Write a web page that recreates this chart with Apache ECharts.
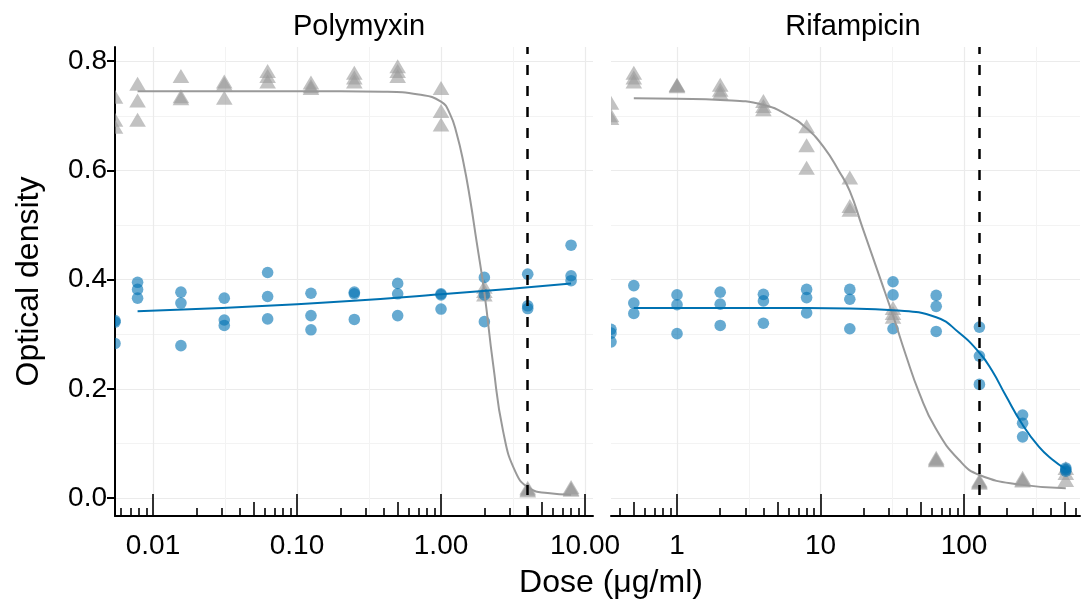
<!DOCTYPE html>
<html>
<head>
<meta charset="utf-8">
<script src="https://cdn.jsdelivr.net/npm/echarts@6/dist/echarts.min.js"></script>
<style>
  html, body { margin: 0; background: #fff; }
  #chart { width: 1082px; height: 605px; }
</style>
</head>
<body>
<div id="chart"></div>
<script>
// doses in ug/ml, 0 = untreated control (drawn on the panel edge, like ggplot's -Inf)
const polyDoses = [0, 0.0078125, 0.015625, 0.03125, 0.0625, 0.125, 0.25, 0.5, 1, 2, 4, 8];
const rifDoses = [0, 0.5, 1, 2, 4, 8, 16, 32, 64, 128, 256, 512];

// three replicates per dose
const polyBlue = [
  [0.325, 0.322, 0.283], [0.395, 0.382, 0.366], [0.377, 0.357, 0.279], [0.366, 0.326, 0.316],
  [0.413, 0.369, 0.328], [0.375, 0.334, 0.308], [0.377, 0.374, 0.327], [0.393, 0.374, 0.334],
  [0.374, 0.372, 0.346], [0.404, 0.372, 0.323], [0.410, 0.352, 0.347], [0.463, 0.407, 0.398],
];
const polyGray = [
  [0.734, 0.692, 0.679], [0.758, 0.727, 0.692], [0.772, 0.735, 0.731], [0.762, 0.758, 0.732],
  [0.781, 0.772, 0.762], [0.760, 0.753, 0.750], [0.778, 0.769, 0.762], [0.790, 0.781, 0.772],
  [0.750, 0.708, 0.683], [0.386, 0.378, 0.372], [0.018, 0.015, 0.013], [0.019, 0.016, 0.014],
];
const rifBlue = [
  [0.309, 0.302, 0.286], [0.389, 0.357, 0.338], [0.372, 0.354, 0.301], [0.377, 0.355, 0.316],
  [0.373, 0.361, 0.320], [0.382, 0.367, 0.339], [0.382, 0.364, 0.310], [0.396, 0.372, 0.310],
  [0.371, 0.351, 0.305], [0.313, 0.260, 0.208], [0.152, 0.137, 0.112], [0.055, 0.052, 0.049],
];
const rifGray = [
  [0.723, 0.700, 0.695], [0.778, 0.769, 0.762], [0.756, 0.755, 0.753], [0.756, 0.747, 0.741],
  [0.726, 0.717, 0.711], [0.680, 0.645, 0.604], [0.586, 0.534, 0.527], [0.347, 0.338, 0.331],
  [0.073, 0.070, 0.068], [0.031, 0.029, 0.027], [0.036, 0.033, 0.031], [0.054, 0.045, 0.032],
];

// fitted curves, read at a few doses
const polyBlueCurve = [[0.0078125, 0.342], [0.1, 0.355], [1, 0.373], [8, 0.393]];
const polyGrayCurve = [
  [0.0078125, 0.745], [0.1, 0.745], [0.4, 0.744], [0.7, 0.739], [1.0, 0.726], [1.155, 0.703],
  [1.285, 0.667], [1.43, 0.615], [1.59, 0.548], [1.77, 0.468], [2.0, 0.376], [2.3, 0.245],
  [2.7, 0.122], [3.3, 0.047], [4.1, 0.018], [5.5, 0.009], [8, 0.006],
];
const rifBlueCurve = [
  [0.5, 0.348], [4, 0.348], [16, 0.347], [32, 0.344], [64, 0.331], [92, 0.303], [128, 0.266],
  [157, 0.233], [194, 0.189], [256, 0.134], [332, 0.094], [410, 0.071], [512, 0.053],
];
const rifGrayCurve = [
  [0.5, 0.732], [1, 0.731], [2, 0.729], [4, 0.720], [6.1, 0.699], [8, 0.677], [10.5, 0.643],
  [13.5, 0.598], [16, 0.562], [19.5, 0.497], [26.3, 0.399], [32, 0.334], [39.4, 0.261],
  [48.5, 0.194], [63.3, 0.128], [92, 0.070], [128, 0.042], [256, 0.024], [512, 0.018],
];

// MIC lines
const polyMic = 4;
const rifMic = 128;

// axes
const polyRange = [0.005445, 11.36];
const rifRange = [0.3467, 643];
const polyMajors = [0.01, 0.1, 1, 10];
const polyTickLabels = ['0.01', '0.10', '1.00', '10.00'];
const rifMajors = [1, 10, 100];
const rifTickLabels = ['1', '10', '100'];
const yRange = [-0.033, 0.826];
const yMajors = [0, 0.2, 0.4, 0.6, 0.8];
const yTickLabels = ['0.0', '0.2', '0.4', '0.6', '0.8'];
const yMinors = [0.1, 0.3, 0.5, 0.7];

const BLUE = '#0072B2';
const GRAY = '#999999';
const FONT = 'Liberation Sans, Arial, sans-serif';

// log ticks (annotation_logticks style) inside a range
function logTicks(range, mults) {
  const out = [];
  for (let e = -4; e <= 4; e++) {
    mults.forEach((m) => {
      const v = m * Math.pow(10, e);
      if (v > range[0] && v < range[1]) out.push(+v.toPrecision(6));
    });
  }
  return out;
}

function toPoints(doses, reps, edge) {
  const pts = [];
  doses.forEach((d, i) => {
    reps[i].forEach((v) => pts.push([d === 0 ? edge : d, v]));
  });
  return pts;
}

function pickLabel(majors, labels) {
  return (v) => {
    const i = majors.findIndex((m) => Math.abs(Math.log10(m) - Math.log10(v)) < 1e-6);
    return i < 0 ? '' : labels[i];
  };
}

const tickLine = { color: '#000', width: 1.6 };

function xAxesFor(gridIndex, range, majors, labels) {
  const base = {
    type: 'log',
    logBase: 10,
    gridIndex,
    min: range[0],
    max: range[1],
    position: 'bottom',
    axisLine: { show: false, onZero: false },
    axisTick: { show: false },
    axisLabel: { show: false },
    splitLine: { show: false },
  };
  return [
    {
      ...base,
      axisLine: { show: true, onZero: false, lineStyle: { color: '#000', width: 2 } },
      axisTick: { show: true, inside: true, length: 22, customValues: majors, lineStyle: tickLine },
      axisLabel: {
        show: true,
        customValues: majors,
        formatter: pickLabel(majors, labels),
        margin: 16,
        fontSize: 28,
        fontFamily: FONT,
        color: '#000',
      },
      splitLine: { show: true, lineStyle: { color: '#ebebeb', width: 1.2 } },
    },
    {
      ...base,
      axisTick: { show: true, inside: true, length: 14, customValues: logTicks(range, [5]), lineStyle: tickLine },
    },
    {
      ...base,
      axisTick: { show: true, inside: true, length: 8, customValues: logTicks(range, [2, 3, 4, 6, 7, 8, 9]), lineStyle: tickLine },
    },
    {
      ...base,
      axisTick: { show: false, customValues: logTicks(range, [Math.sqrt(10)]) },
      splitLine: { show: true, lineStyle: { color: '#f3f3f3', width: 1 } },
    },
  ];
}

function yAxesFor(gridIndex, withAxis) {
  const base = {
    type: 'value',
    gridIndex,
    min: yRange[0],
    max: yRange[1],
    position: 'left',
    axisLine: { show: false, onZero: false },
    axisTick: { show: false },
    axisLabel: { show: false },
    splitLine: { show: false },
  };
  return [
    {
      ...base,
      axisLine: { show: withAxis, onZero: false, lineStyle: { color: '#000', width: 2 } },
      axisTick: { show: withAxis, length: 8, customValues: yMajors, lineStyle: { color: '#000', width: 2 } },
      axisLabel: {
        show: withAxis,
        customValues: yMajors,
        formatter: (v) => yTickLabels[yMajors.findIndex((m) => Math.abs(m - v) < 1e-6)] || '',
        margin: 8,
        fontSize: 28,
        fontFamily: FONT,
        color: '#000',
      },
      splitLine: { show: true, lineStyle: { color: '#ebebeb', width: 1.2 } },
      name: withAxis ? 'Optical density' : '',
      nameLocation: 'middle',
      nameRotate: 90,
      nameGap: 70,
      nameTextStyle: { fontSize: 32, fontFamily: FONT, color: '#000' },
    },
    {
      ...base,
      axisTick: { show: false, customValues: yMinors },
      splitLine: { show: true, lineStyle: { color: '#f3f3f3', width: 1 } },
    },
  ];
}

// points through a custom series so that control points are clipped on the panel edge
function pointSeries(xIdx, yIdx, data, color, shape) {
  return {
    type: 'custom',
    xAxisIndex: xIdx,
    yAxisIndex: yIdx,
    clip: true,
    data,
    encode: { x: 0, y: 1 },
    z: 3,
    renderItem: (params, api) => {
      const p = api.coord([api.value(0), api.value(1)]);
      const style = { fill: color, opacity: 0.6 };
      if (shape === 'circle') {
        return { type: 'circle', shape: { cx: p[0], cy: p[1], r: 5.8 }, style };
      }
      return {
        type: 'polygon',
        shape: { points: [[p[0], p[1] - 7.5], [p[0] + 8.3, p[1] + 6.5], [p[0] - 8.3, p[1] + 6.5]] },
        style,
      };
    },
  };
}

function curveSeries(xIdx, yIdx, data, color) {
  return {
    type: 'line',
    xAxisIndex: xIdx,
    yAxisIndex: yIdx,
    data,
    showSymbol: false,
    smooth: 0.5,
    z: 4,
    lineStyle: { color, width: 2 },
    emphasis: { disabled: true },
  };
}

function micSeries(xIdx, yIdx, dose) {
  return {
    type: 'line',
    xAxisIndex: xIdx,
    yAxisIndex: yIdx,
    data: [],
    z: 5,
    markLine: {
      silent: true,
      symbol: 'none',
      label: { show: false },
      lineStyle: { color: '#000', type: [10, 11], width: 2.5 },
      data: [{ xAxis: dose }],
    },
  };
}

const chart = echarts.init(document.getElementById('chart'), null, { renderer: 'canvas' });

chart.setOption({
  backgroundColor: '#fff',
  animation: false,
  grid: [
    { left: 115, top: 47, width: 478, height: 469, containLabel: false, outerBoundsMode: 'none' },
    { left: 611, top: 47, width: 469, height: 469, containLabel: false, outerBoundsMode: 'none' },
  ],
  title: [
    { text: 'Polymyxin', left: 354, top: 7, textAlign: 'center', textStyle: { fontSize: 29, fontWeight: 'normal', fontFamily: FONT, color: '#000' } },
    { text: 'Rifampicin', left: 848, top: 7, textAlign: 'center', textStyle: { fontSize: 29, fontWeight: 'normal', fontFamily: FONT, color: '#000' } },
  ],
  graphic: [
    {
      type: 'text',
      x: 611,
      y: 583,
      style: { text: 'Dose (μg/ml)', fontSize: 32, fontFamily: FONT, fill: '#000', align: 'center', verticalAlign: 'middle' },
    },
  ],
  xAxis: [
    ...xAxesFor(0, polyRange, polyMajors, polyTickLabels),
    ...xAxesFor(1, rifRange, rifMajors, rifTickLabels),
  ],
  yAxis: [...yAxesFor(0, true), ...yAxesFor(1, false)],
  series: [
    pointSeries(0, 0, toPoints(polyDoses, polyGray, polyRange[0]), GRAY, 'triangle'),
    pointSeries(0, 0, toPoints(polyDoses, polyBlue, polyRange[0]), BLUE, 'circle'),
    curveSeries(0, 0, polyGrayCurve, GRAY),
    curveSeries(0, 0, polyBlueCurve, BLUE),
    micSeries(0, 0, polyMic),
    pointSeries(4, 2, toPoints(rifDoses, rifGray, rifRange[0]), GRAY, 'triangle'),
    pointSeries(4, 2, toPoints(rifDoses, rifBlue, rifRange[0]), BLUE, 'circle'),
    curveSeries(4, 2, rifGrayCurve, GRAY),
    curveSeries(4, 2, rifBlueCurve, BLUE),
    micSeries(4, 2, rifMic),
  ],
});
</script>
</body>
</html>
